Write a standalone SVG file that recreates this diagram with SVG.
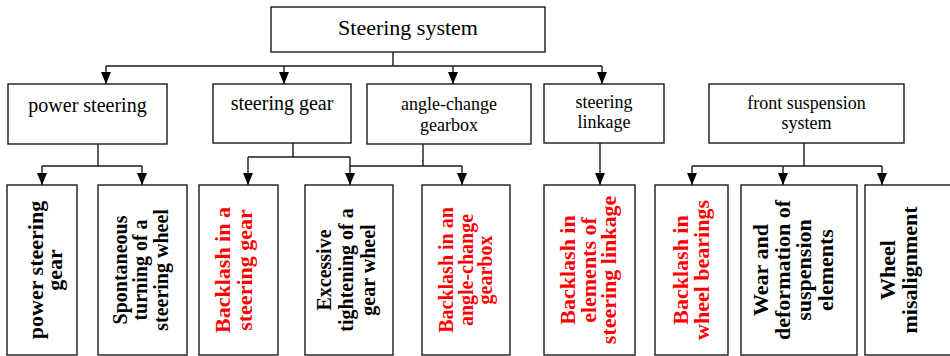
<svg xmlns="http://www.w3.org/2000/svg" width="950" height="356" viewBox="0 0 950 356">
  <style>
    .box { fill: #ffffff; stroke: #1a1a1a; stroke-width: 1.4; }
    .wire { fill: none; stroke: #1a1a1a; stroke-width: 1.4; }
    .lbl { font-family: "Liberation Serif", "Times New Roman", serif; fill: #000; text-anchor: middle; }
    .t22 { font-size: 22px; }
    .t18 { font-size: 18px; }
    .v { font-family: "Liberation Serif", "Times New Roman", serif; font-weight: bold; text-anchor: middle; fill: #000; }
    .v22 { font-size: 22px; }
    .v20 { font-size: 20px; }
    .red { fill: #ff0000; }
  </style>
  <defs>
    <marker id="arrow" markerUnits="userSpaceOnUse" markerWidth="12" markerHeight="10" refX="12" refY="5" orient="auto">
      <path d="M0,0 L12,5 L0,10 Z" fill="#000"/>
    </marker>
  </defs>

  <!-- connectors -->
  <g id="connectors">
    <path class="wire" d="M393,52 V66 M106,66 H602"/>
    <path class="wire" d="M106,66 V84" marker-end="url(#arrow)"/>
    <path class="wire" d="M284,66 V84" marker-end="url(#arrow)"/>
    <path class="wire" d="M453,66 V84" marker-end="url(#arrow)"/>
    <path class="wire" d="M602,66 V84" marker-end="url(#arrow)"/>

    <path class="wire" d="M98,144 V166 M42,166 H142"/>
    <path class="wire" d="M42,166 V185" marker-end="url(#arrow)"/>
    <path class="wire" d="M142,166 V185" marker-end="url(#arrow)"/>

    <path class="wire" d="M293,143 V157 M248,157 H350"/>
    <path class="wire" d="M248,157 V185" marker-end="url(#arrow)"/>
    <path class="wire" d="M350,157 V185" marker-end="url(#arrow)"/>
    <path class="wire" d="M423,144 V166 M350,166 H462"/>
    <path class="wire" d="M462,166 V185" marker-end="url(#arrow)"/>

    <path class="wire" d="M600,143 V185" marker-end="url(#arrow)"/>

    <path class="wire" d="M804,143 V166 M692,166 H882"/>
    <path class="wire" d="M692,166 V185" marker-end="url(#arrow)"/>
    <path class="wire" d="M783,166 V185" marker-end="url(#arrow)"/>
    <path class="wire" d="M882,166 V185" marker-end="url(#arrow)"/>
  </g>

  <!-- top level -->
  <g id="steering-system">
    <rect class="box" x="271" y="7" width="274" height="45"/>
    <text class="lbl t22" x="408" y="35">Steering system</text>
  </g>

  <!-- second level -->
  <g id="power-steering">
    <rect class="box" x="8" y="84" width="159" height="60"/>
    <text class="lbl" font-size="20" x="87.5" y="112">power steering</text>
  </g>
  <g id="steering-gear">
    <rect class="box" x="213" y="84" width="138" height="59"/>
    <text class="lbl" font-size="20" x="282" y="110">steering gear</text>
  </g>
  <g id="angle-change-gearbox">
    <rect class="box" x="367" y="84" width="164" height="60"/>
    <text class="lbl t18" x="449" y="110">angle-change</text>
    <text class="lbl t18" x="449" y="131">gearbox</text>
  </g>
  <g id="steering-linkage">
    <rect class="box" x="544" y="84" width="120" height="59"/>
    <text class="lbl t18" x="604" y="108">steering</text>
    <text class="lbl t18" x="604" y="128">linkage</text>
  </g>
  <g id="front-suspension">
    <rect class="box" x="709" y="84" width="195" height="59"/>
    <text class="lbl t18" x="806.5" y="109">front suspension</text>
    <text class="lbl t18" x="806.5" y="129">system</text>
  </g>

  <!-- third level: rotated labels read bottom to top -->
  <g id="power-steering-gear">
    <rect class="box" x="7" y="185" width="70" height="170"/>
    <g transform="translate(0,270) rotate(-90)">
      <text class="v v22" x="0" y="43">power steering</text>
      <text class="v v22" x="0" y="62">gear</text>
    </g>
  </g>
  <g id="spontaneous-turning">
    <rect class="box" x="98" y="185" width="89" height="170"/>
    <g transform="translate(0,270) rotate(-90)">
      <text class="v v20" x="0" y="126.5">Spontaneous</text>
      <text class="v v20" x="0" y="147">turning of a</text>
      <text class="v v20" x="0" y="167.5">steering wheel</text>
    </g>
  </g>
  <g id="backlash-steering-gear">
    <rect class="box" x="199" y="185" width="79" height="170"/>
    <g transform="translate(0,270) rotate(-90)">
      <text class="v v22 red" x="0" y="230">Backlash in a</text>
      <text class="v v22 red" x="0" y="251.5">steering gear</text>
    </g>
  </g>
  <g id="excessive-tightening">
    <rect class="box" x="305" y="185" width="88" height="170"/>
    <g transform="translate(0,270) rotate(-90)">
      <text class="v v20" x="0" y="331">Excessive</text>
      <text class="v v20" x="0" y="353">tightening of a</text>
      <text class="v v20" x="0" y="374.5">gear wheel</text>
    </g>
  </g>
  <g id="backlash-angle-change-gearbox">
    <rect class="box" x="422" y="185" width="88" height="170"/>
    <g transform="translate(0,270) rotate(-90)">
      <text class="v v20 red" x="0" y="453">Backlash in an</text>
      <text class="v v20 red" x="0" y="473">angle-change</text>
      <text class="v v20 red" x="0" y="492">gearbox</text>
    </g>
  </g>
  <g id="backlash-steering-linkage">
    <rect class="box" x="544" y="185" width="91" height="170"/>
    <g transform="translate(0,270) rotate(-90)">
      <text class="v v22 red" x="0" y="575">Backlash in</text>
      <text class="v v22 red" x="0" y="595.5">elements of</text>
      <text class="v v22 red" x="0" y="616">steering linkage</text>
    </g>
  </g>
  <g id="backlash-wheel-bearings">
    <rect class="box" x="655" y="185" width="73" height="170"/>
    <g transform="translate(0,270) rotate(-90)">
      <text class="v v22 red" x="0" y="688">Backlash in</text>
      <text class="v v22 red" x="0" y="708.5">wheel bearings</text>
    </g>
  </g>
  <g id="suspension-wear">
    <rect class="box" x="741" y="185" width="116" height="170"/>
    <g transform="translate(0,270) rotate(-90)">
      <text class="v v22" x="0" y="768">Wear and</text>
      <text class="v v22" x="0" y="790">deformation of</text>
      <text class="v v22" x="0" y="811">suspension</text>
      <text class="v v22" x="0" y="833">elements</text>
    </g>
  </g>
  <g id="wheel-misalignment">
    <rect class="box" x="865" y="185" width="100" height="170"/>
    <g transform="translate(0,270) rotate(-90)">
      <text class="v v22" x="0" y="895">Wheel</text>
      <text class="v v22" x="0" y="917">misalignment</text>
    </g>
  </g>
</svg>
